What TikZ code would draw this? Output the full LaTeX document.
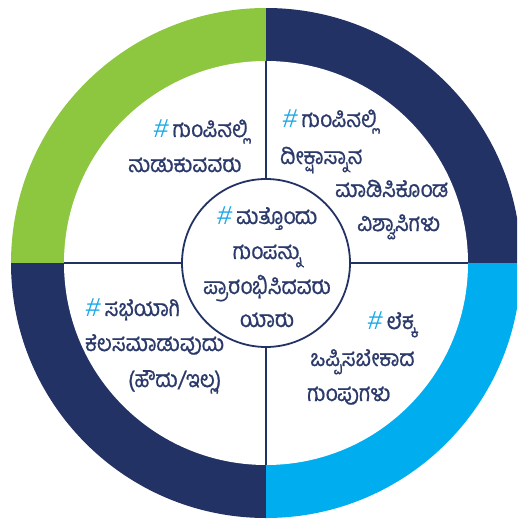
\documentclass[tikz,border=0pt]{standalone}
\usepackage{fontspec}
\newfontfamily\kn[Script=Kannada,FakeStretch=0.9,FakeBold=0.8]{Hind Mysuru}
\newfontfamily\hashfont[FakeSlant=0.12]{Liberation Sans}
\definecolor{ringgreen}{HTML}{8DC63F}
\definecolor{ringnavy}{HTML}{233265}
\definecolor{ringblue}{HTML}{00AEEF}
\definecolor{txt}{HTML}{2B3A6B}
\definecolor{hashc}{HTML}{1BA9E8}
\newcommand{\hsh}{{\hashfont\fontsize{26}{26}\selectfont\color{hashc}\#}\hspace{5pt}}
\tikzset{
  lbl/.style={font=\kn\fontsize{23}{23}\selectfont, text=txt, inner sep=0pt, anchor=base west},
  clbl/.style={font=\kn\fontsize{23}{23}\selectfont, text=txt, inner sep=0pt, anchor=base},
  divider/.style={draw=ringnavy, line width=1.8pt},
}
\begin{document}
\begin{tikzpicture}[x=1pt,y=-1pt]
\useasboundingbox (0,0) rectangle (517,519);
\clip (0,0) rectangle (517,519);
\coordinate (c) at (266,263);
\begin{scope}
  \clip (c) circle (255);
  \fill[ringgreen] (c) rectangle (0,0);
  \fill[ringnavy] (c) rectangle (540,0);
  \fill[ringnavy] (c) rectangle (0,540);
  \fill[ringblue] (c) rectangle (540,540);
\end{scope}
\fill[white] (c) circle (202);
\node[circle, draw=ringnavy, line width=1.8pt, fill=white, minimum size=168pt, inner sep=0pt] (hub) at (c) {};
\coordinate (rn) at (266,61);
\coordinate (rs) at (266,465);
\coordinate (rw) at (64,263);
\coordinate (re) at (468,263);
\draw[divider] (hub.north) -- (rn);
\draw[divider] (hub.south) -- (rs);
\draw[divider] (hub.west) -- (rw);
\draw[divider] (hub.east) -- (re);
% top-left
\node[lbl] (tl1) at (153,137) {\hsh ಗುಂಪಿನಲ್ಲಿ};
\node[lbl] (tl2) at (128,172) {ಹುಡುಕುವವರು};
% top-right
\node[lbl] (tr1) at (282,127) {\hsh ಗುಂಪಿನಲ್ಲಿ};
\node[lbl] (tr2) at (280,164) {ದೀಕ್ಷಾಸ್ನಾನ};
\node[lbl] (tr3) at (335,197) {ಮಾಡಿಸಿಕೊಂಡ};
\node[lbl] (tr4) at (357,231) {ವಿಶ್ವಾಸಿಗಳು};
% centre
\node[clbl] (c1) at (267,224) {\hsh ಮತ್ತೊಂದು};
\node[clbl] (c2) at (267,259) {ಗುಂಪನ್ನು};
\node[clbl] (c3) at (267,294) {ಪ್ರಾರಂಭಿಸಿದವರು};
\node[clbl] (c4) at (267,327) {ಯಾರು};
% bottom-left
\node[lbl] (bl1) at (85,316) {\hsh ಸಭೆಯಾಗಿ};
\node[lbl] (bl2) at (85,351) {ಕೆಲಸಮಾಡುವುದು};
\node[lbl] (bl3) at (128,387) {(ಹೌದು/ಇಲ್ಲ)};
% bottom-right
\node[lbl] (br1) at (367,329) {\hsh ಲೆಕ್ಕ};
\node[lbl] (br2) at (310,366) {ಒಪ್ಪಿಸಬೇಕಾದ};
\node[lbl] (br3) at (307,401) {ಗುಂಪುಗಳು};
\end{tikzpicture}
\end{document}
